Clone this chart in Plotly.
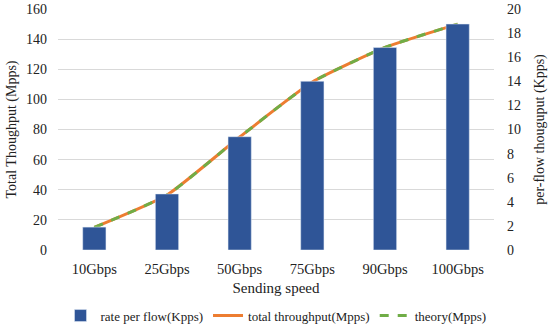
import plotly.graph_objects as go

categories = ["10Gbps", "25Gbps", "50Gbps", "75Gbps", "90Gbps", "100Gbps"]
rate_per_flow = [1.9, 4.65, 9.4, 14.0, 16.8, 18.75]      # Kpps (right axis)
total_throughput = [15, 36.5, 75, 111.5, 134.5, 150]      # Mpps (left axis)
theory = [15, 36.5, 75, 111.5, 134.5, 150]                # Mpps (left axis)

left_ticks = list(range(0, 161, 20))
right_ticks = list(range(0, 21, 2))

font = "Liberation Serif, Times New Roman, serif"

fig = go.Figure()
fig.add_trace(go.Bar(x=categories, y=rate_per_flow, name="rate per flow(Kpps)",
                     marker_color="#2F5597", width=0.32, yaxis="y2"))
fig.add_trace(go.Scatter(x=categories, y=total_throughput, name="total throughput(Mpps)",
                         mode="lines", line=dict(color="#ED7D31", width=3, shape="spline", smoothing=0.5)))
fig.add_trace(go.Scatter(x=categories, y=theory, name="theory(Mpps)",
                         mode="lines", line=dict(color="#70AD47", width=3, shape="spline", smoothing=0.5,
                                                 dash="dash")))

fig.update_layout(
    width=550, height=329,
    margin=dict(l=58, r=56, t=9, b=79, autoexpand=False),
    paper_bgcolor="white", plot_bgcolor="white",
    font=dict(family=font, size=14, color="#222"),
    xaxis=dict(title=dict(text="Sending speed", font=dict(size=15), standoff=6),
               showgrid=False, showline=False, ticks="", tickfont=dict(size=14.5),
               ticklabelstandoff=8, automargin=False),
    yaxis=dict(title=dict(text="Total Thoughput (Mpps)", font=dict(size=14), standoff=6),
               range=[0, 160], tickvals=left_ticks, showgrid=True, gridcolor="#D9D9D9",
               gridwidth=1, zeroline=False, showline=False, ticks="", tickfont=dict(size=14),
               ticklabelstandoff=10, automargin=False),
    yaxis2=dict(title=dict(text="per-flow thouguput (Kpps)", font=dict(size=14), standoff=14),
                range=[0, 20], tickvals=right_ticks, overlaying="y", side="right",
                showgrid=False, zeroline=False, showline=False, ticks="", tickfont=dict(size=14),
                ticklabelstandoff=12, automargin=False),
    legend=dict(orientation="h", x=0.5, xanchor="center", y=-0.21, yanchor="top",
                font=dict(size=13), itemwidth=30, tracegroupgap=0),
)
fig.write_html("out.html", config={"displayModeBar": False},
               post_script="document.body.style.margin='0';")
